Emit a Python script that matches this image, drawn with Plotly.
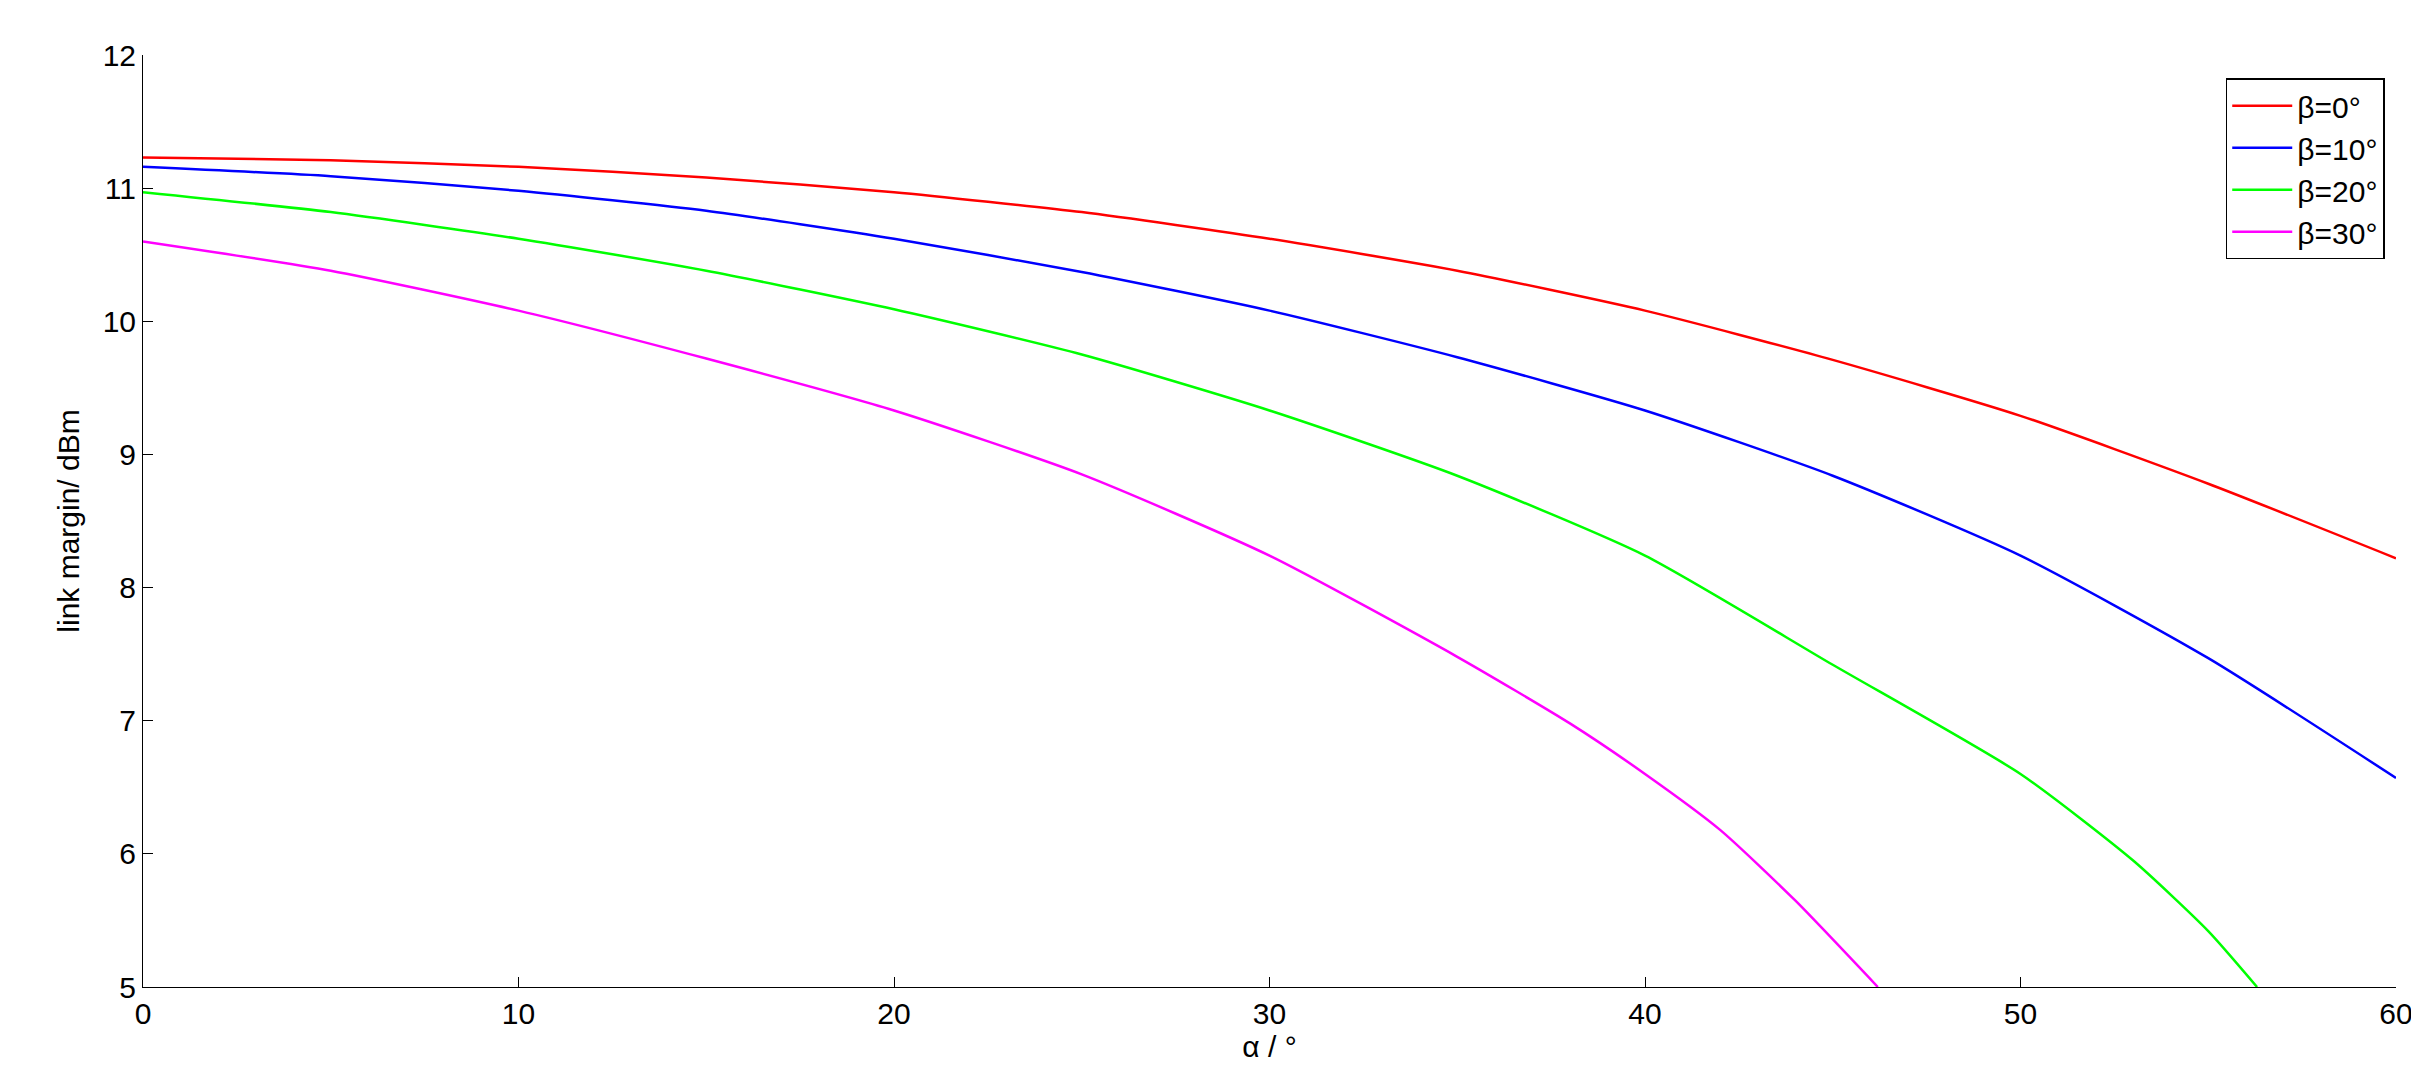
import plotly.graph_objects as go

alpha = [0, 5, 10, 15, 20, 25, 30, 35, 40, 45, 50, 55, 60]
b0 = [11.23, 11.21, 11.16, 11.08, 10.97, 10.82, 10.62, 10.38, 10.08, 9.71, 9.29, 8.78, 8.22]
b10 = [11.16, 11.09, 10.98, 10.83, 10.62, 10.37, 10.08, 9.73, 9.33, 8.84, 8.24, 7.47, 6.57]
alpha20 = [0, 5, 10, 15, 20, 25, 30, 35, 40, 45, 50, 53, 55, 56.3]
b20 = [10.97, 10.82, 10.62, 10.38, 10.09, 9.75, 9.33, 8.84, 8.24, 7.42, 6.60, 5.95, 5.42, 5.0]
alpha30 = [0, 5, 10, 15, 20, 25, 30, 35, 38, 40, 42, 44, 46.2]
b30 = [10.60, 10.38, 10.08, 9.72, 9.33, 8.85, 8.24, 7.48, 6.98, 6.60, 6.18, 5.65, 5.0]

fig = go.Figure()
for x, y, name, c in [(alpha, b0, "β=0°", "#ff0000"), (alpha, b10, "β=10°", "#0000ff"),
                      (alpha20, b20, "β=20°", "#00ff00"), (alpha30, b30, "β=30°", "#ff00ff")]:
    fig.add_trace(go.Scatter(x=x, y=y, mode="lines", name=name,
                             line=dict(color=c, width=2.5, shape="spline", smoothing=0.6)))

ax = dict(showgrid=False, zeroline=False, showline=True, linecolor="black", linewidth=1,
          ticks="inside", ticklen=10, tickcolor="black", mirror=False,
          tickfont=dict(size=30, color="black", family="Liberation Sans"))
fig.update_layout(
    width=2419, height=1088, plot_bgcolor="white", paper_bgcolor="white",
    margin=dict(l=135, r=31, t=47, b=109),
    font=dict(family="Liberation Sans", color="black"),
    xaxis=dict(range=[0, 60], dtick=10, title=dict(text="α / °", font=dict(size=30), standoff=6), **ax),
    yaxis=dict(range=[5, 12], dtick=1, title=dict(text="link margin/ dBm", font=dict(size=30), standoff=14), **ax),
    legend=dict(x=0.995, y=0.975, xanchor="right", yanchor="top", bgcolor="white",
                bordercolor="black", borderwidth=1.5, font=dict(size=30), tracegroupgap=10,
                itemwidth=60),
)
fig.write_html("out.html")
